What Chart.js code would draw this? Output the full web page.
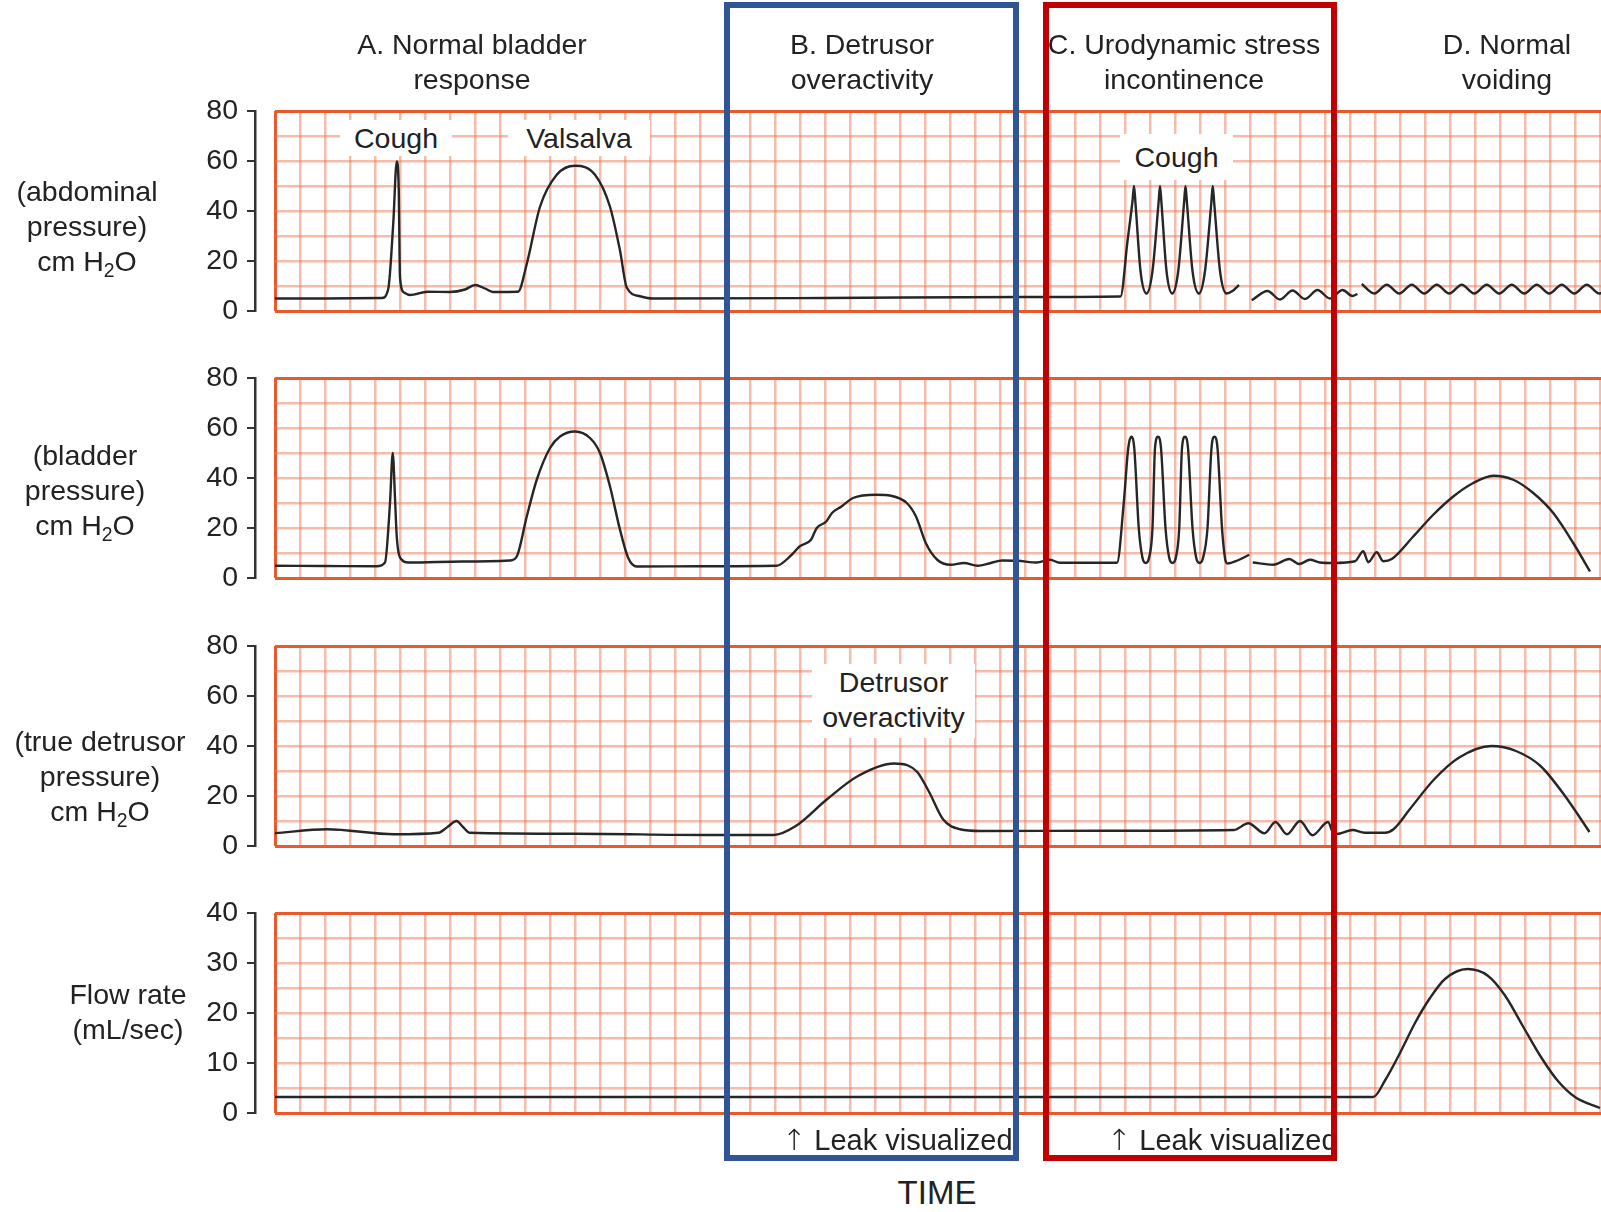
<!DOCTYPE html>
<html>
<head>
<meta charset="utf-8">
<script src="https://cdn.jsdelivr.net/npm/chart.js@4.4.0/dist/chart.umd.min.js"></script>
<style>
  body { margin: 0; width: 1601px; height: 1212px; overflow: hidden; background: #fff; position: relative;
         font-family: 'Liberation Sans', Arial, sans-serif; color: #222; }
  canvas.panel { position: absolute; left: 0; }
  .txt { position: absolute; text-align: center; font-size: 28.5px; line-height: 35px; white-space: nowrap; }
  .note { position: absolute; background: #fff; text-align: center; font-size: 28.5px; line-height: 35px; white-space: nowrap; }
  sub { font-size: 0.68em; vertical-align: -0.3em; line-height: 0; }
  .box { position: absolute; border: 6px solid; box-sizing: border-box; }
  .arrow { font-family: 'DejaVu Sans', sans-serif; font-weight: 200; font-size: 1.0em; margin-right: 8px; }
</style>
</head>
<body>

<canvas id="abdominal" class="panel" width="1660" height="260" style="top:81px"></canvas>
<canvas id="bladder" class="panel" width="1660" height="260" style="top:348px"></canvas>
<canvas id="detrusor" class="panel" width="1660" height="260" style="top:616px"></canvas>
<canvas id="flow" class="panel" width="1660" height="260" style="top:883px"></canvas>

<!-- section titles -->
<div class="txt" style="left:322px; width:300px; top:27px">A. Normal bladder<br>response</div>
<div class="txt" style="left:712px; width:300px; top:27px">B. Detrusor<br>overactivity</div>
<div class="txt" style="left:1034px; width:300px; top:27px">C. Urodynamic stress<br>incontinence</div>
<div class="txt" style="left:1357px; width:300px; top:27px">D. Normal<br>voiding</div>

<!-- panel labels -->
<div class="txt" style="left:0; width:174px; top:174px">(abdominal<br>pressure)<br>cm H<sub>2</sub>O</div>
<div class="txt" style="left:0; width:170px; top:438px">(bladder<br>pressure)<br>cm H<sub>2</sub>O</div>
<div class="txt" style="left:0; width:200px; top:724px">(true detrusor<br>pressure)<br>cm H<sub>2</sub>O</div>
<div class="txt" style="left:0; width:256px; top:977px">Flow rate<br>(mL/sec)</div>

<!-- notes inside the grids -->
<div class="note" style="left:340px; width:112px; top:120px; height:36px; line-height:36px">Cough</div>
<div class="note" style="left:508px; width:142px; top:120px; height:36px; line-height:36px">Valsalva</div>
<div class="note" style="left:1120px; width:113px; top:134px; height:46px; line-height:46px">Cough</div>
<div class="note" style="left:812px; width:163px; top:664px; height:74px; padding-top:1px; box-sizing:border-box">Detrusor<br>overactivity</div>

<!-- bottom texts -->
<div class="txt" style="left:782px; top:1123px; text-align:left; font-size:29px"><span class="arrow">↑</span>Leak visualized</div>
<div class="txt" style="left:1107px; top:1123px; width:228px; overflow:hidden; text-align:left; font-size:29px"><span class="arrow">↑</span>Leak visualized</div>
<div class="txt" style="left:837px; width:200px; top:1173px; font-size:33px; line-height:40px">TIME</div>

<!-- highlight boxes -->
<div class="box" style="left:724px; top:2px; width:295px; height:1159px; border-color:#2f5597"></div>
<div class="box" style="left:1043px; top:2px; width:294px; height:1159px; border-color:#c00000"></div>

<script>
// time in grid cells, values in cm H2O / mL/sec
const abdominalTrace = [
  [0, 5.0], [2.0, 5.0], [4.27, 5.2], [4.53, 8.8], [4.73, 35], [4.87, 59.8], [4.95, 48.4], [5.0, 13.4],
  [5.16, 7.4], [5.4, 6.4], [6.1, 7.7], [7.0, 7.6], [7.6, 8.6], [8.0, 10.4], [8.4, 9.0], [8.72, 7.6],
  [9.72, 7.7], [10.07, 18.8], [10.6, 41.7], [11.27, 54.5], [12.0, 58.1], [12.8, 54.5], [13.4, 41.7],
  [13.8, 24.2], [14.07, 9.4], [14.6, 5.9], [15.12, 5.0], [22, 5.2], [30, 5.6], [33.82, 5.8],
  [34.1, 28], [34.3, 44], [34.36, 50], [34.42, 43], [34.62, 16], [34.86, 7], [35.1, 16], [35.34, 43],
  [35.4, 50], [35.46, 43], [35.66, 16], [35.89, 7], [36.13, 16], [36.36, 43], [36.42, 50], [36.48, 43],
  [36.7, 16], [36.96, 7], [37.2, 16], [37.45, 43], [37.51, 50], [37.57, 43], [37.8, 16], [38.06, 7],
  [38.3, 8], [38.56, 10.4]
];
const abdominalWave1 = [
  [39.07, 4.3], [39.7, 8.0], [40.2, 4.6], [40.7, 8.2], [41.2, 4.8], [41.7, 8.4], [42.2, 5.0],
  [42.7, 8.4], [43.1, 6.0], [43.3, 6.8]
];
const abdominalWave2 = [
  [43.47, 10.8], [43.97, 7.0], [44.47, 10.5], [44.97, 7.0], [45.47, 10.5], [45.97, 7.0], [46.47, 10.5],
  [46.97, 7.0], [47.47, 10.5], [47.97, 7.0], [48.47, 10.5], [48.97, 7.0], [49.47, 10.5], [49.97, 7.0],
  [50.47, 10.5], [50.97, 7.0], [51.47, 10.5], [51.97, 7.0], [52.47, 10.5], [52.97, 7.0], [53.47, 10.5]
];

const bladderTrace = [
  [0, 4.9], [2, 4.8], [4.07, 4.7], [4.4, 6.2], [4.6, 30], [4.71, 50], [4.8, 32], [4.87, 16.6],
  [5.07, 7.3], [5.33, 6.2], [7.5, 6.6], [9.4, 7.0], [9.67, 8.6], [10.07, 24.6], [10.47, 39.3],
  [11.0, 52], [11.4, 56.6], [12.0, 58.6], [12.6, 56], [13.0, 50], [13.4, 36.6], [13.8, 19.3],
  [14.13, 8], [14.47, 4.6], [17, 4.7], [20.06, 4.9], [20.67, 9.3], [20.98, 12.6], [21.44, 15.3],
  [21.67, 20], [22.05, 22.6], [22.28, 26], [22.66, 28.6], [23.12, 32], [24.04, 33.3], [24.64, 32.9],
  [25.27, 30], [25.64, 24.6], [26.03, 14], [26.49, 7.3], [27.03, 5.3], [27.56, 6], [28.1, 4.9],
  [28.63, 6], [29.09, 7], [29.7, 6.9], [30.47, 6.2], [31.0, 7.3], [31.39, 6.1], [33.68, 6.1],
  [33.95, 30], [34.13, 52], [34.25, 56.5], [34.37, 52], [34.55, 20], [34.7, 8], [34.83, 6],
  [34.96, 8], [35.1, 20], [35.2, 52], [35.32, 56.5], [35.44, 52], [35.62, 20], [35.77, 8], [35.9, 6],
  [36.03, 8], [36.17, 20], [36.28, 52], [36.4, 56.5], [36.52, 52], [36.7, 20], [36.85, 8], [36.98, 6],
  [37.12, 8], [37.3, 20], [37.46, 52], [37.58, 56.5], [37.7, 52], [37.88, 20], [38.0, 8], [38.1, 5.8],
  [38.5, 7], [38.97, 9.3]
];
const bladderTrace2 = [
  [39.11, 6.2], [39.93, 5.3], [40.57, 7.6], [40.97, 5.6], [41.4, 7.3], [41.8, 6.2], [42.33, 6],
  [43.2, 6.7], [43.53, 10.7], [43.73, 6.3], [44.07, 10.3], [44.33, 6.7], [44.67, 7.6], [45.53, 16.6],
  [46.33, 25.3], [47.13, 32.6], [47.93, 38], [48.73, 40.9], [49.53, 39.3], [50.33, 34], [51.13, 26],
  [51.93, 14], [52.6, 2.6]
];

const detrusorTrace = [
  [0, 5.1], [2.08, 6.7], [4.76, 4.7], [6.54, 5.3], [6.9, 7.6], [7.26, 10], [7.52, 7.6], [7.79, 5.3],
  [12, 4.9], [17.26, 4.4], [19.94, 4.4], [20.83, 8], [22.08, 18.7], [23.32, 28], [24.76, 33],
  [25.3, 32.3], [25.7, 29.5], [26.18, 21.3], [26.72, 10.7], [27.4, 6.7], [28.22, 6], [33, 6.1], [38.36, 6.4],
  [38.93, 9.1], [39.58, 5.1], [40.02, 9.6], [40.48, 4.7], [41.0, 10], [41.5, 4.3], [42.12, 9.6],
  [42.36, 4.7], [42.6, 5], [43.1, 6.4], [43.59, 5.3], [44.4, 5.3], [44.74, 6.7], [45.39, 14.7],
  [46.37, 26.7], [47.35, 35.3], [48.66, 40], [49.64, 38], [50.62, 32], [51.6, 20], [52.58, 5.6]
];

const flowTrace = [
  [0, 3.2], [20, 3.2], [43.93, 3.2], [44.4, 6.5], [45.0, 12], [45.6, 18], [46.2, 23], [46.8, 26.8],
  [47.7, 28.8], [48.5, 27.5], [49.2, 23.5], [49.9, 17.5], [50.6, 11.5], [51.3, 6.5], [52.0, 3.2],
  [53.0, 1]
];

const pressureTicks = [0, 20, 40, 60, 80];
const flowTicks = [0, 10, 20, 30, 40];

const FONT = "'Liberation Sans', Arial, sans-serif";
const EDGE = '#e8592b';
const GRID = 'rgba(240, 120, 85, 0.5)';

function drawPanel(id, ticks, traces) {
  const yMax = ticks[ticks.length - 1];
  const labelStep = ticks[1] - ticks[0];
  new Chart(document.getElementById(id), {
    type: 'line',
    data: {
      datasets: traces.map(t => ({
        data: t.map(p => ({ x: p[0], y: p[1] })),
        xAxisID: 'x',
        yAxisID: 'y',
        borderColor: '#262626',
        borderWidth: 2.4,
        pointRadius: 0,
        cubicInterpolationMode: 'monotone'
      }))
    },
    options: {
      responsive: false,
      animation: false,
      devicePixelRatio: 1,
      // 30px above and below leaves room for the tick labels, so the grid is exactly 200px tall
      layout: { padding: { top: 30, bottom: 30, left: 0, right: 10 } },
      plugins: { legend: { display: false }, tooltip: { enabled: false } },
      scales: {
        x: {
          type: 'linear', min: 0, max: 55,
          afterFit: s => { s.height = 0; },
          ticks: { display: false, stepSize: 1 },
          grid: {
            drawTicks: false,
            color: c => c.tick.value === 0 ? EDGE : GRID,
            lineWidth: c => c.tick.value === 0 ? 3 : 2.5
          },
          border: { display: false }
        },
        y: {
          position: 'left', weight: 0, min: 0, max: yMax,
          afterFit: s => { s.width = 20; },
          ticks: { display: false, stepSize: labelStep / 2 },
          grid: {
            drawTicks: false,
            color: c => (c.tick.value === 0 || c.tick.value === yMax) ? EDGE : GRID,
            lineWidth: c => (c.tick.value === 0 || c.tick.value === yMax) ? 3 : 2.5
          },
          border: { display: false }
        },
        yAxis: {
          position: 'left', weight: 10, min: 0, max: yMax,
          afterFit: s => { s.width = 255; },
          ticks: { stepSize: labelStep, padding: 9, color: '#222', font: { family: FONT, size: 28.5 } },
          grid: { drawOnChartArea: false, drawTicks: true, tickLength: 8, color: '#333', lineWidth: 2 },
          border: { display: true, color: '#333', width: 2.5 }
        }
      }
    }
  });
}

drawPanel('abdominal', pressureTicks, [abdominalTrace, abdominalWave1, abdominalWave2]);
drawPanel('bladder', pressureTicks, [bladderTrace, bladderTrace2]);
drawPanel('detrusor', pressureTicks, [detrusorTrace]);
drawPanel('flow', flowTicks, [flowTrace]);
</script>
</body>
</html>
